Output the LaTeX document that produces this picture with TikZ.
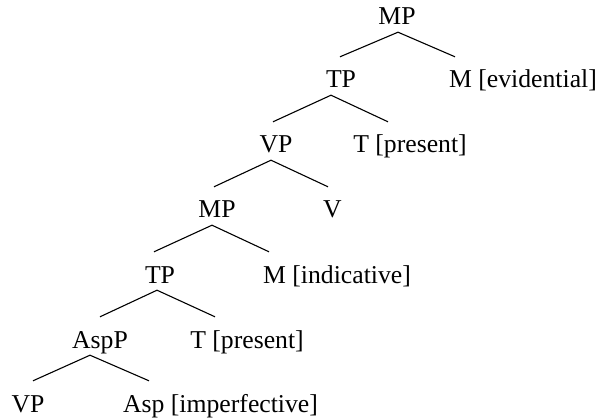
\documentclass[tikz,border=0pt]{standalone}
\usepackage{fontspec}
\setmainfont{Liberation Serif}
\usepackage{tikz}
\usetikzlibrary{positioning}
\tikzset{
cat/.style = {anchor=base, inner xsep=0pt, inner ysep=5pt,
              text height=26pt, text depth=2pt,
              font=\fontsize{25.7}{30}\selectfont},
branch/.style = {line width=1.1pt}
}

\begin{document}
\begin{tikzpicture}[x=1pt, y=-1pt]
        \useasboundingbox (0,0) rectangle (601,419);

        \node[cat] (mp0) at (397,25) {MP};
        \node[cat] (tp1) at (341,88) {TP};
        \node[cat] (mev) at (523,88) {M [evidential]};
        \node[cat] (vp2) at (276,153) {VP};
        \node[cat] (tpr1) at (410,153) {T [present]};
        \node[cat] (mp3) at (217,218) {MP};
        \node[cat] (v3) at (332.5,218) {V};
        \node[cat] (tp4) at (160,283) {TP};
        \node[cat] (mind) at (337,283) {M [indicative]};
        \node[cat] (aspp) at (100,348) {AspP};
        \node[cat] (tpr2) at (247,348) {T [present]};
        \node[cat] (vp6) at (28,412) {VP};
        \node[cat] (asp) at (220.5,412) {Asp [imperfective]};

        \draw[branch] ([xshift=-1pt]tp1.north) -- ([xshift=1pt]mp0.south) -- ([xshift=-68pt]mev.north);
        \draw[branch] ([xshift=-3pt]vp2.north) -- ([xshift=-10pt]tp1.south) -- ([xshift=-22pt]tpr1.north);
        \draw[branch] ([xshift=-3pt]mp3.north) -- ([xshift=-5pt]vp2.south) -- ([xshift=-4.5pt]v3.north);
        \draw[branch] ([xshift=-6pt]tp4.north) -- ([xshift=-5pt]mp3.south) -- ([xshift=-68pt]mind.north);
        \draw[branch] (aspp.north) -- ([xshift=-3pt]tp4.south) -- ([xshift=-32pt]tpr2.north);
        \draw[branch] ([xshift=5pt]vp6.north) -- ([xshift=-10pt]aspp.south) -- ([xshift=-71.5pt]asp.north);
\end{tikzpicture}
\end{document}
